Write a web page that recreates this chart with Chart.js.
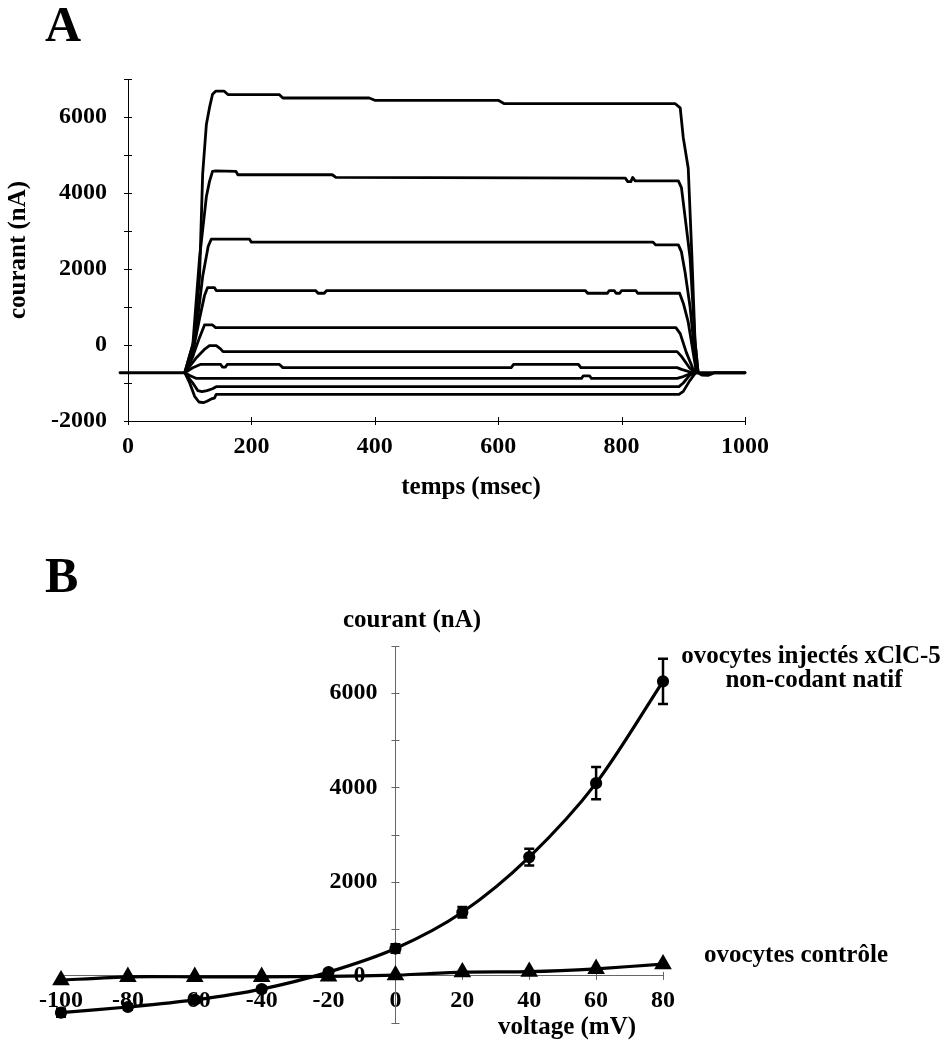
<!DOCTYPE html>
<html><head><meta charset="utf-8">
<script src="https://cdn.jsdelivr.net/npm/chart.js@4.4.1/dist/chart.umd.min.js"></script>
<style>
html,body{margin:0;padding:0;background:#fff;}
#wrap{position:relative;width:949px;height:1043px;overflow:hidden;background:#fff;}
canvas{position:absolute;left:0;}
#cA{top:0;}
#cB{top:520px;}
</style></head><body>
<div id="wrap"><canvas id="cA" width="949" height="520"></canvas><canvas id="cB" width="949" height="523"></canvas></div>
<script>
// ---------- Panel A data: current traces [time (ms), current (nA)] ----------
const traceP80 = [[-13,-730],[92,-730],[105,-300],[116,1800],[121,4500],[127,5800],[132,6240],[137,6600],[142,6680],[156,6680],[162,6590],[245,6590],[251,6500],[391,6500],[400,6440],[600,6440],[610,6350],[887,6350],[895,6240],[900,5450],[908,4650],[914,2300],[919,100],[924,-730],[1000,-730]];
const traceP60 = [[92,-730],[105,0],[116,2300],[127,3900],[132,4300],[137,4570],[142,4580],[175,4570],[178,4480],[331,4480],[337,4410],[806,4390],[810,4300],[815,4300],[818,4410],[822,4320],[892,4320],[897,4140],[903,3350],[911,2290],[919,90],[924,-730]];
const traceP40 = [[92,-730],[110,300],[121,1800],[130,2600],[135,2785],[197,2785],[200,2706],[851,2706],[855,2635],[892,2635],[897,2450],[903,1900],[911,1000],[919,-300],[924,-730]];
const traceP20 = [[92,-730],[105,-200],[116,700],[124,1300],[129,1512],[140,1512],[143,1433],[304,1433],[308,1362],[318,1362],[322,1433],[741,1433],[745,1362],[777,1362],[780,1433],[788,1433],[791,1362],[797,1362],[800,1433],[823,1433],[826,1362],[894,1362],[900,1100],[908,600],[914,0],[920,-600],[924,-730]];
const trace0 = [[92,-730],[105,-300],[116,200],[124,528],[137,528],[142,458],[888,458],[895,300],[905,-200],[915,-600],[922,-730]];
const traceM20 = [[92,-730],[110,-350],[125,-100],[132,-16],[143,-16],[150,-100],[154,-174],[890,-174],[897,-300],[910,-600],[920,-730]];
const traceM40 = [[92,-730],[105,-600],[118,-508],[150,-508],[153,-580],[158,-580],[161,-508],[245,-508],[251,-596],[621,-596],[625,-508],[730,-508],[734,-596],[890,-596],[897,-640],[915,-730]];
const traceM60 = [[92,-730],[100,-800],[110,-877],[735,-877],[738,-810],[748,-810],[751,-877],[890,-877],[900,-830],[915,-730]];
const traceM80 = [[92,-730],[105,-1000],[113,-1200],[120,-1229],[128,-1200],[137,-1150],[143,-1097],[893,-1097],[900,-1000],[910,-800],[918,-730]];
const traceM100 = [[92,-730],[100,-1000],[108,-1350],[115,-1500],[122,-1519],[128,-1480],[135,-1420],[140,-1400],[143,-1300],[893,-1300],[900,-1220],[910,-950],[920,-730]];
const traceTail = [[918,-730],[924,-730],[930,-790],[940,-800],[946,-760],[950,-730],[1000,-730]];
const tracesA = [traceP80, traceP60, traceP40, traceP20, trace0, traceM20, traceM40, traceM60, traceM80, traceM100, traceTail];

// ---------- Panel B data: I/V curve ----------
const voltages   = [-100, -80, -60, -40, -20, 0, 20, 40, 60, 80];
const xclc5      = [-780, -660, -510, -280, 80, 580, 1350, 2520, 4090, 6250];
const xclc5Err   = [90, 60, 60, 60, 50, 90, 110, 180, 340, 480];
const controle   = [-90, -20, -20, -20, -10, 15, 80, 90, 150, 250];

const FAM = "'Liberation Serif','Times New Roman',serif";
const tickFont = {family: FAM, size: 24, weight: 'bold'};
const GAP = '\u00a0\u00a0\u00a0';

const crossTicks = {
  id: 'crossTicks',
  beforeDatasetsDraw(chart, args, o) {
    const ctx = chart.ctx, xs = chart.scales.x, ys = chart.scales.y;
    const ax = o.yAt != null ? xs.getPixelForValue(o.yAt) : chart.chartArea.left;
    const ay = o.xAt != null ? ys.getPixelForValue(o.xAt) : chart.chartArea.bottom;
    ctx.save();
    ctx.strokeStyle = o.color; ctx.lineWidth = 1;
    ctx.beginPath();
    ys.ticks.forEach(t => {
      const p = Math.round(ys.getPixelForValue(t.value)) + 0.5;
      ctx.moveTo(ax - o.len, p); ctx.lineTo(ax + o.len, p);
    });
    xs.ticks.forEach(t => {
      const p = Math.round(xs.getPixelForValue(t.value)) + 0.5;
      ctx.moveTo(p, ay - o.len); ctx.lineTo(p, ay + o.len);
    });
    ctx.stroke();
    ctx.restore();
  }
};

const texts = {
  id: 'texts',
  afterDraw(chart, args, o) {
    const ctx = chart.ctx;
    (o.items || []).forEach(it => {
      ctx.save();
      ctx.fillStyle = '#000';
      ctx.font = `bold ${it.size}px ${FAM}`;
      ctx.textAlign = it.align || 'center';
      ctx.textBaseline = it.baseline || 'middle';
      ctx.translate(it.x, it.y);
      if (it.rot) ctx.rotate(it.rot);
      ctx.fillText(it.text, 0, 0);
      ctx.restore();
    });
  }
};

const errorBars = {
  id: 'errorBars',
  afterDatasetsDraw(chart, args, o) {
    const ctx = chart.ctx, xs = chart.scales.x, ys = chart.scales.y;
    ctx.save();
    ctx.strokeStyle = '#000'; ctx.lineWidth = 2.5;
    o.x.forEach((v, i) => {
      const px = xs.getPixelForValue(v);
      const top = ys.getPixelForValue(o.y[i] + o.err[i]);
      const bot = ys.getPixelForValue(o.y[i] - o.err[i]);
      ctx.beginPath();
      ctx.moveTo(px, top); ctx.lineTo(px, bot);
      ctx.moveTo(px - 5, top); ctx.lineTo(px + 5, top);
      ctx.moveTo(px - 5, bot); ctx.lineTo(px + 5, bot);
      ctx.stroke();
    });
    ctx.restore();
  }
};

// ---------- Chart A ----------
new Chart(document.getElementById('cA'), {
  type: 'line',
  data: {
    datasets: tracesA.map(tr => ({
      data: tr.map(([x, y]) => ({x, y})),
      borderColor: '#000', borderWidth: 2.8, pointRadius: 0, tension: 0,
      fill: false, clip: false, borderJoinStyle: 'round', borderCapStyle: 'round'
    }))
  },
  options: {
    responsive: false, animation: false, devicePixelRatio: 1,
    layout: {padding: {left: 0, top: 79, right: 204, bottom: 0}},
    plugins: {
      legend: {display: false}, tooltip: {enabled: false},
      crossTicks: {color: '#000', len: 4},
      texts: {items: [
        {text: 'A', x: 45, y: 41, size: 50, align: 'left', baseline: 'alphabetic'},
        {text: 'temps (msec)', x: 471, y: 488, size: 25},
        {text: 'courant (nA)', x: 19, y: 250, size: 25, rot: -Math.PI / 2}
      ]}
    },
    scales: {
      x: {type: 'linear', min: 0, max: 1000,
        ticks: {stepSize: 200, font: tickFont, color: '#000', padding: 3, maxRotation: 0, autoSkip: false,
          callback: v => String(v)},
        grid: {display: false}, border: {color: '#000', width: 1},
        afterFit(s) { s.height = 99; }},
      y: {type: 'linear', min: -2000, max: 7000,
        ticks: {stepSize: 1000, font: tickFont, color: '#000', padding: 13, autoSkip: false,
          callback: v => (v % 2000 === 0 ? String(v) : '')},
        grid: {display: false}, border: {color: '#000', width: 1},
        afterFit(s) { s.width = 128; }}
    }
  },
  plugins: [crossTicks, texts]
});

// ---------- Chart B ----------
new Chart(document.getElementById('cB'), {
  type: 'line',
  data: {
    datasets: [
      {data: voltages.map((v, i) => ({x: v, y: xclc5[i]})), borderColor: '#000', backgroundColor: '#000',
        borderWidth: 3.2, pointRadius: 4.5, pointStyle: 'circle', tension: 0.3, clip: false},
      {data: voltages.map((v, i) => ({x: v, y: controle[i]})), borderColor: '#000', backgroundColor: '#000',
        borderWidth: 3.2, pointRadius: 7, pointStyle: 'triangle', tension: 0.2, clip: false}
    ]
  },
  options: {
    responsive: false, animation: false, devicePixelRatio: 1,
    layout: {padding: {left: 61, right: 286, top: 126, bottom: 20}},
    plugins: {
      legend: {display: false}, tooltip: {enabled: false},
      crossTicks: {color: '#666', len: 4, xAt: 0, yAt: 0},
      errorBars: {x: voltages, y: xclc5, err: xclc5Err},
      texts: {items: [
        {text: 'B', x: 45, y: 72, size: 50, align: 'left', baseline: 'alphabetic'},
        {text: 'courant (nA)', x: 412, y: 101, size: 25},
        {text: 'voltage (mV)', x: 567, y: 508, size: 25},
        {text: 'ovocytes injectés xClC-5', x: 811, y: 137, size: 25},
        {text: 'non-codant natif', x: 814, y: 161, size: 25},
        {text: 'ovocytes contrôle', x: 796, y: 436, size: 25}
      ]}
    },
    scales: {
      x: {type: 'linear', min: -100, max: 80, position: {y: 0},
        ticks: {stepSize: 20, font: tickFont, color: '#000', padding: 3, maxRotation: 0, autoSkip: false},
        grid: {display: false}, border: {color: '#666', width: 1}},
      y: {type: 'linear', min: -1000, max: 7000, position: {x: 0},
        ticks: {stepSize: 1000, font: tickFont, color: '#000', padding: 0, autoSkip: false,
          callback: v => (v === 0 ? '0' + GAP + '\u00a0\u00a0' : (v > 0 && v % 2000 === 0 ? String(v) + GAP : ''))},
        grid: {display: false}, border: {color: '#666', width: 1}}
    }
  },
  plugins: [crossTicks, errorBars, texts]
});
</script>
</body></html>
